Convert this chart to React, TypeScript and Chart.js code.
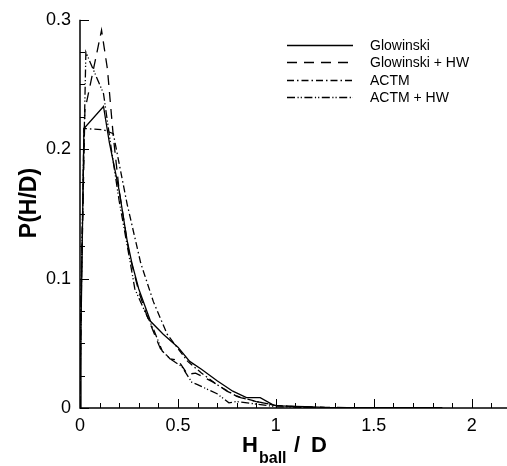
import React, { useEffect, useRef } from "react";
import { Chart, registerables } from "chart.js";
Chart.register(...registerables);

// ---- data ----
const glowX = [0, 0.005, 0.02, 0.12, 0.15, 0.2, 0.24, 0.265, 0.3, 0.36, 0.425, 0.5, 0.56, 0.62, 0.7, 0.78, 0.85, 0.92, 0.99, 1.05, 1.15, 1.25, 1.5, 1.85];
const glowY = [0, 0.06, 0.216, 0.233, 0.205, 0.168, 0.13, 0.112, 0.092, 0.067, 0.057, 0.047, 0.036, 0.03, 0.021, 0.013, 0.008, 0.008, 0.002, 0.0015, 0.001, 0.0005, 0.0003, 0.0002];

const glowHwX = [0, 0.005, 0.025, 0.11, 0.14, 0.17, 0.2, 0.25, 0.3, 0.34, 0.41, 0.46, 0.5, 0.55, 0.59, 0.68, 0.75, 0.82, 0.9, 1.0, 1.1, 1.25, 1.5];
const glowHwY = [0, 0.08, 0.23, 0.292, 0.262, 0.21, 0.168, 0.12, 0.09, 0.072, 0.046, 0.038, 0.037, 0.026, 0.027, 0.02, 0.013, 0.008, 0.005, 0.002, 0.001, 0.0005, 0.0002];

const actmX = [0, 0.005, 0.02, 0.12, 0.17, 0.24, 0.31, 0.375, 0.445, 0.5, 0.55, 0.62, 0.7, 0.8, 0.9, 1.0, 1.1, 1.2];
const actmY = [0, 0.07, 0.216, 0.215, 0.212, 0.158, 0.112, 0.082, 0.057, 0.046, 0.036, 0.027, 0.018, 0.009, 0.005, 0.002, 0.001, 0.0005];

const actmHwX = [0, 0.005, 0.03, 0.12, 0.16, 0.2, 0.25, 0.28, 0.33, 0.375, 0.42, 0.46, 0.52, 0.57, 0.6, 0.7, 0.76, 0.8, 0.9, 1.0, 1.1, 1.2];
const actmHwY = [0, 0.09, 0.275, 0.243, 0.2, 0.16, 0.118, 0.092, 0.075, 0.061, 0.044, 0.038, 0.032, 0.02, 0.018, 0.011, 0.004, 0.005, 0.003, 0.001, 0.0007, 0.0003];

const seriesNames = ["Glowinski", "Glowinski + HW", "ACTM", "ACTM + HW"];
const xTickLabels = ["0", "0.5", "1", "1.5", "2"];
const yTickLabels = ["0", "0.1", "0.2", "0.3"];

const toPts = (xs: number[], ys: number[]) => xs.map((x, i) => ({ x, y: ys[i] }));

const FONT = "'Liberation Sans', Arial, Helvetica, sans-serif";

const axesPlugin = {
  id: "customAxes",
  afterDatasetsDraw(chart: any) {
    const { ctx, chartArea, scales } = chart;
    const xs = scales.x;
    const ys = scales.y;
    ctx.save();
    ctx.strokeStyle = "#000";
    ctx.lineWidth = 1.5;
    ctx.setLineDash([]);
    ctx.beginPath();
    ctx.moveTo(chartArea.left, chartArea.top);
    ctx.lineTo(chartArea.left, chartArea.bottom);
    ctx.lineTo(chartArea.right, chartArea.bottom);
    ctx.stroke();
    ctx.lineWidth = 1;
    // x ticks (inward)
    for (let i = 0; i <= 21; i++) {
      const v = i / 10;
      const px = Math.round(xs.getPixelForValue(v)) + 0.5;
      const len = i % 5 === 0 ? 9 : 5;
      ctx.beginPath();
      ctx.moveTo(px, chartArea.bottom);
      ctx.lineTo(px, chartArea.bottom - len);
      ctx.stroke();
    }
    // y ticks (inward)
    for (let i = 0; i <= 12; i++) {
      const v = i * 0.025;
      const py = Math.round(ys.getPixelForValue(v)) + 0.5;
      const len = i % 4 === 0 ? 9 : 5;
      ctx.beginPath();
      ctx.moveTo(chartArea.left, py);
      ctx.lineTo(chartArea.left + len, py);
      ctx.stroke();
    }
    ctx.restore();
  },
  afterDraw(chart: any) {
    const { ctx } = chart;
    ctx.save();
    ctx.fillStyle = "#000";
    // y title
    ctx.save();
    ctx.translate(30, 203);
    ctx.rotate(-Math.PI / 2);
    ctx.font = `bold 23px ${FONT}`;
    ctx.textAlign = "center";
    ctx.textBaseline = "middle";
    ctx.fillText("P(H/D)", 0, 0);
    ctx.restore();
    // x title with subscript
    ctx.textBaseline = "alphabetic";
    ctx.textAlign = "left";
    ctx.font = `bold 22px ${FONT}`;
    ctx.fillText("H", 242, 452);
    ctx.font = `bold 16px ${FONT}`;
    ctx.fillText("ball", 259, 463);
    ctx.font = `bold 22px ${FONT}`;
    ctx.fillText("/", 294, 452);
    ctx.fillText("D", 311, 452);
    // legend
    ctx.font = `14px ${FONT}`;
    ctx.textBaseline = "middle";
    const rows = [45, 62, 80, 97];
    chart.data.datasets.forEach((ds: any, i: number) => {
      ctx.strokeStyle = "#000";
      ctx.lineWidth = 1.3;
      ctx.setLineDash(ds.borderDash || []);
      ctx.beginPath();
      ctx.moveTo(287, rows[i] + 0.5);
      ctx.lineTo(353, rows[i] + 0.5);
      ctx.stroke();
      ctx.setLineDash([]);
      ctx.fillText(ds.label, 370, rows[i] + 1);
    });
    ctx.restore();
  },
};

export default function App() {
  const ref = useRef<HTMLCanvasElement | null>(null);
  useEffect(() => {
    if (!ref.current) return;
    const common = { borderColor: "#000", borderWidth: 1.3, pointRadius: 0, showLine: true, tension: 0, fill: false };
    const chart = new Chart(ref.current, {
      type: "scatter",
      data: {
        datasets: [
          { ...common, label: seriesNames[0], data: toPts(glowX, glowY), borderDash: [] },
          { ...common, label: seriesNames[1], data: toPts(glowHwX, glowHwY), borderDash: [10, 7] },
          { ...common, label: seriesNames[2], data: toPts(actmX, actmY), borderDash: [7, 3, 1.5, 3] },
          { ...common, label: seriesNames[3], data: toPts(actmHwX, actmHwY), borderDash: [8, 2.5, 1.2, 2, 1.2, 2.5] },
        ],
      },
      options: {
        animation: false,
        responsive: false,
        layout: { padding: { top: 15, right: 0, left: 0, bottom: 0 } },
        plugins: { legend: { display: false }, tooltip: { enabled: false } },
        scales: {
          x: {
            type: "linear",
            min: 0,
            max: 2.18,
            grid: { display: false, drawTicks: false },
            border: { display: false },
            ticks: {
              stepSize: 0.5,
              includeBounds: false,
              padding: 7,
              maxRotation: 0,
              color: "#000",
              font: { family: FONT, size: 18 },
              callback: (v: any) => xTickLabels[Math.round(Number(v) * 2)] ?? "",
            },
            afterFit: (s: any) => { s.height = 58; },
          },
          y: {
            type: "linear",
            min: 0,
            max: 0.3,
            grid: { display: false, drawTicks: false },
            border: { display: false },
            ticks: {
              stepSize: 0.1,
              padding: 9,
              color: "#000",
              font: { family: FONT, size: 18 },
              callback: (v: any) => yTickLabels[Math.round(Number(v) * 10)] ?? "",
            },
            afterFit: (s: any) => { s.width = 80; },
          },
        },
      },
      plugins: [axesPlugin],
    });
    return () => chart.destroy();
  }, []);
  return (
    <div style={{ position: "absolute", left: 0, top: 0, width: 507, height: 466, background: "#fff" }}>
      <canvas ref={ref} width={507} height={466} />
    </div>
  );
}
